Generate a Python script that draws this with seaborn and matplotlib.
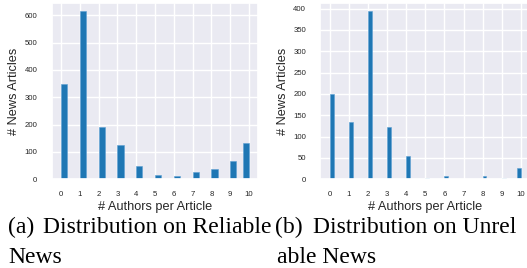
import matplotlib
matplotlib.use("Agg")
import matplotlib.pyplot as plt
import seaborn as sns

# number of authors per article and how many articles have that many
authors = list(range(11))
reliable = [348, 615, 192, 127, 50, 16, 11, 26, 36, 66, 131]
unreliable = [200, 134, 394, 123, 55, 3, 8, 0, 7, 4, 27]

sns.set_theme(style="darkgrid")
plt.rcParams["font.family"] = ["Liberation Sans", "DejaVu Sans"]

W, H = 527, 268
fig = plt.figure(figsize=(W / 100, H / 100), dpi=100)
fig.patch.set_facecolor("white")

ax1 = fig.add_axes([51.6 / W, 1 - 179.3 / H, 206.8 / W, 176.6 / H])
ax2 = fig.add_axes([320.3 / W, 1 - 179.3 / H, 210.1 / W, 176.6 / H])

panels = [
    (ax1, reliable, 30, range(0, 601, 100)),
    (ax2, unreliable, 50, range(0, 401, 50)),
]
for ax, counts, nbins, yt in panels:
    sns.histplot(x=authors, weights=counts, bins=nbins, binrange=(0, 10),
                 color="#1f77b4", alpha=1, edgecolor="#5d9fd2", linewidth=0.4,
                 ax=ax)
    ax.set_xticks(authors)
    ax.set_yticks(list(yt))
    ax.tick_params(axis="both", labelsize=5.6, colors=".15")
    ax.tick_params(axis="x", pad=2.2)
    ax.tick_params(axis="y", pad=4.2)
    ax.set_xlabel("# Authors per Article", fontsize=9.2, color=".15", labelpad=2.2)
    ax.set_ylabel("# News Articles", fontsize=9.2, color=".15", labelpad=3.2)

# sub-figure captions
serif = ["Liberation Serif", "DejaVu Serif"]
cap = dict(fontsize=17, family=serif, va="baseline", ha="left", color="black")
fig.text(8 / W, 1 - 233 / H, "(a)", **cap)
fig.text(43 / W, 1 - 233 / H, "Distribution on Reliable", **cap)
fig.text(8 / W, 1 - 263 / H, "News", **cap)
fig.text(275 / W, 1 - 233 / H, "(b)", **cap)
fig.text(313 / W, 1 - 233 / H, "Distribution on Unrel", **cap)
fig.text(277 / W, 1 - 263 / H, "able News", **cap)

fig.savefig("out.png", dpi=100)
